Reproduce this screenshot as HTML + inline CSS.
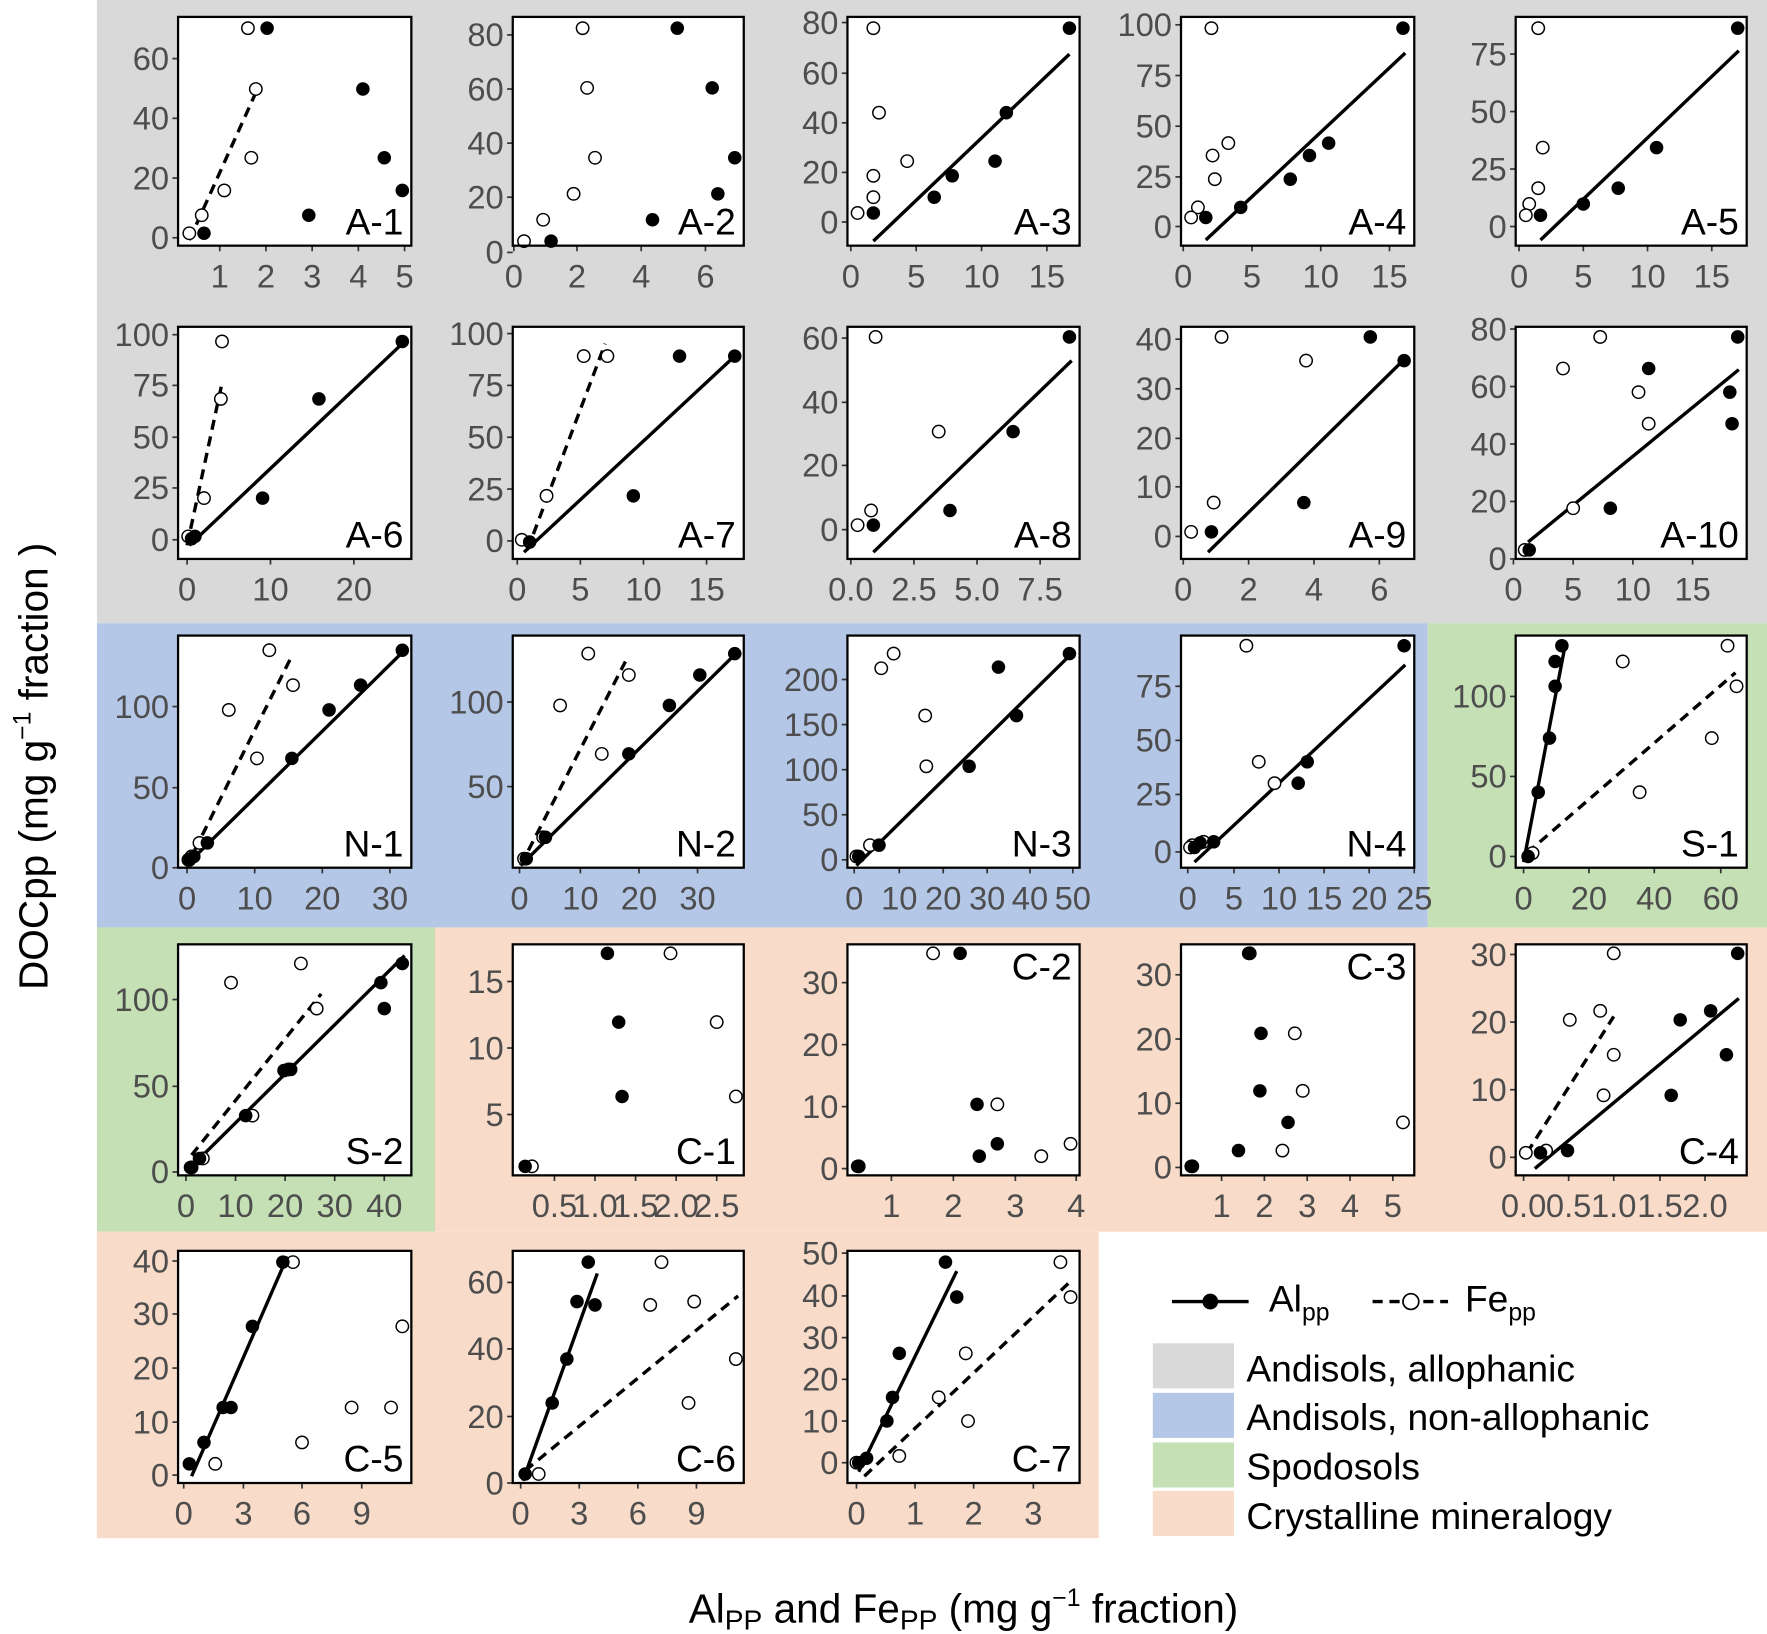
<!DOCTYPE html>
<html><head><meta charset="utf-8"><style>
html,body{margin:0;padding:0;background:#fff}
svg{display:block}
text{font-family:"Liberation Sans",Arial,sans-serif}
</style></head><body>
<svg id="s" width="1767" height="1634" viewBox="0 0 1568 1450" xmlns="http://www.w3.org/2000/svg">
<rect x="86" y="0" width="1482" height="553" fill="#d9d9d9"/>
<rect x="86" y="553" width="1181" height="270" fill="#b4c7e7"/>
<rect x="1267" y="553" width="301" height="270" fill="#c5e0b4"/>
<rect x="86" y="823" width="300" height="270" fill="#c5e0b4"/>
<rect x="386" y="823" width="1182" height="270" fill="#f8dcc9"/>
<rect x="86" y="1093" width="889" height="272" fill="#f8dcc9"/>
<g id="g"></g>
<line x1="1040" y1="1155" x2="1108" y2="1155" stroke="#000" stroke-width="3"/>
<circle cx="1074" cy="1155" r="7" fill="#000"/>
<text x="1126" y="1164" font-size="33">Al<tspan font-size="22" dy="8">pp</tspan></text>
<line x1="1218" y1="1155" x2="1285" y2="1155" stroke="#000" stroke-width="3" stroke-dasharray="9,6"/>
<circle cx="1252" cy="1155" r="7" fill="#fff" stroke="#000" stroke-width="1.5"/>
<text x="1300" y="1164" font-size="33">Fe<tspan font-size="22" dy="8">pp</tspan></text>
<rect x="1023" y="1192" width="72" height="40" fill="#d9d9d9"/>
<rect x="1023" y="1236" width="72" height="40" fill="#b4c7e7"/>
<rect x="1023" y="1280" width="72" height="40" fill="#c5e0b4"/>
<rect x="1023" y="1323" width="72" height="40" fill="#f8dcc9"/>
<text x="1106" y="1226" font-size="33">Andisols, allophanic</text>
<text x="1106" y="1269" font-size="33">Andisols, non-allophanic</text>
<text x="1106" y="1313" font-size="33">Spodosols</text>
<text x="1106" y="1357" font-size="33">Crystalline mineralogy</text>
<text transform="translate(42,680) rotate(-90)" text-anchor="middle" font-size="36">DOCpp (mg g<tspan font-size="22" dy="-15">−1</tspan><tspan dy="15"> fraction )</tspan></text>
<text x="855" y="1440" text-anchor="middle" font-size="36">Al<tspan font-size="25" dy="6">PP</tspan><tspan dy="-6"> and Fe</tspan><tspan font-size="25" dy="6">PP</tspan><tspan dy="-6"> (mg g</tspan><tspan font-size="22" dy="-15">−1</tspan><tspan dy="15"> fraction)</tspan></text>
</svg>
<script>
var C=[[158,365],[455,660],[752,958],[1048,1255],[1345,1550]];
var R=[[15,218],[290,496],[564,770],[838,1043],[1110,1316]];
function P(c,r,lab,yt,xt,fi,op,ln,top){return {c:c,r:r,lab:lab,yt:yt,xt:xt,fi:fi,op:op,ln:ln,top:top};}
var D=[
P(0,0,"A-1",[[60,52],[40,105],[20,158],[0,211]],[[1,195],[2,236],[3,277],[4,318],[5,359]],
[[237,25],[181,207],[274,191],[322,79],[341,140],[357,169]],[[220,25],[227,79],[223,140],[199,169],[179,191],[168,207]],[[168,213,228,80,1]]),
P(1,0,"A-2",[[80,31],[60,79],[40,127],[20,175],[0,224]],[[0,456],[2,512],[4,569],[6,626]],
[[601,25],[632,78],[652,140],[637,172],[579,195],[489,214]],[[517,25],[521,78],[528,140],[509,172],[482,195],[465,214]],[]),
P(2,0,"A-3",[[80,20],[60,65],[40,109],[20,153],[0,197]],[[0,755],[5,813],[10,871],[15,929]],
[[949,25],[893,100],[883,143],[845,156],[829,175],[775,189]],[[775,25],[780,100],[805,143],[775,156],[775,175],[761,189]],[[775,214,949,48,0]]),
P(3,0,"A-4",[[100,22],[75,67],[50,112],[25,157],[0,201]],[[0,1050],[5,1111],[10,1172],[15,1233]],
[[1245,25],[1179,127],[1162,138],[1145,159],[1101,184],[1070,193]],[[1075,25],[1090,127],[1076,138],[1078,159],[1063,184],[1057,193]],[[1070,213,1247,47,0]]),
P(4,0,"A-5",[[75,48],[50,99],[25,150],[0,201]],[[0,1348],[5,1405],[10,1462],[15,1519]],
[[1542,25],[1470,131],[1436,167],[1405,181],[1367,191]],[[1365,25],[1369,131],[1365,167],[1357,181],[1354,191]],[[1367,213,1543,45,0]]),
P(0,1,"A-6",[[100,297],[75,342],[50,388],[25,433],[0,479]],[[0,166],[10,240],[20,314]],
[[357,303],[283,354],[233,442],[173,476],[170,478]],[[197,303],[196,354],[181,442],[167,476]],[[168,484,359,303,0],[166,484,197,340,1]]),
P(1,1,"A-7",[[100,296],[75,342],[50,388],[25,434],[0,480]],[[0,459],[5,515],[10,571],[15,627]],
[[652,316],[603,316],[562,440],[470,481]],[[518,316],[539,316],[485,440],[463,479]],[[465,490,652,316,0],[468,488,537,305,1]]),
P(2,1,"A-8",[[60,300],[40,357],[20,413],[0,470]],[["0.0",755],["2.5",811],["5.0",867],["7.5",923]],
[[949,299],[899,383],[843,453],[775,466]],[[777,299],[833,383],[773,453],[761,466]],[[775,490,951,320,0]]),
P(3,1,"A-9",[[40,301],[30,345],[20,389],[10,432],[0,476]],[[0,1050],[2,1108],[4,1166],[6,1224]],
[[1216,299],[1246,320],[1157,446],[1075,472]],[[1084,299],[1159,320],[1077,446],[1057,472]],[[1072,490,1245,320,0]]),
P(4,1,"A-10",[[80,292],[60,343],[40,394],[20,445],[0,496]],[[0,1343],[5,1396],[10,1449],[15,1502]],
[[1542,299],[1463,327],[1535,348],[1537,376],[1429,451],[1357,488]],[[1420,299],[1387,327],[1454,348],[1463,376],[1396,451],[1353,488]],[[1356,481,1543,328,0]]),
P(0,2,"N-1",[[100,627],[50,699],[0,770]],[[0,166],[10,226],[20,286],[30,346]],
[[357,577],[320,608],[292,630],[259,673],[184,748],[172,760],[167,763]],[[239,577],[260,608],[203,630],[228,673],[177,748],[170,760],[168,763]],[[165,768,359,577,0],[166,768,259,582,1]]),
P(1,2,"N-2",[[100,623],[50,698]],[[0,461],[10,515],[20,567],[30,619]],
[[652,580],[621,599],[594,626],[558,669],[484,743],[467,762]],[[522,580],[558,599],[497,626],[534,669],[482,743],[465,762]],[[462,768,653,580,0],[462,768,555,587,1]]),
P(2,2,"N-3",[[200,603],[150,643],[100,683],[50,723],[0,763]],[[0,758],[10,798],[20,837],[30,876],[40,914],[50,952]],
[[949,580],[886,592],[902,635],[860,680],[780,750],[762,760]],[[793,580],[782,593],[821,635],[822,680],[772,750],[760,760]],[[760,768,951,580,0]]),
P(3,2,"N-4",[[75,609],[50,657],[25,705],[0,756]],[[0,1054],[5,1095],[10,1135],[15,1175],[20,1215],[25,1255]],
[[1246,573],[1160,676],[1152,695],[1077,747],[1065,748],[1060,752]],[[1106,573],[1117,676],[1131,695],[1068,747],[1058,750],[1056,752]],[[1060,765,1247,590,0]]),
P(4,2,"S-1",[[100,618],[50,689],[0,760]],[[0,1352],[20,1410],[40,1468],[60,1527]],
[[1386,573],[1380,587],[1380,609],[1375,655],[1365,703],[1356,760]],[[1533,573],[1541,609],[1440,587],[1519,655],[1455,703],[1360,757]],[[1352,765,1389,572,0],[1355,757,1540,597,1]]),
P(0,3,"S-2",[[100,887],[50,964],[0,1040]],[[0,165],[10,209],[20,253],[30,297],[40,341]],
[[357,855],[338,872],[341,895],[258,949],[252,950],[218,990],[177,1028],[169,1036]],[[267,855],[205,872],[281,895],[256,949],[224,990],[180,1028],[170,1036]],[[165,1040,359,848,0],[170,1025,285,882,1]]),
P(1,3,"C-1",[[15,871],[10,930],[5,989]],[["0.5",492],["1.0",528],["1.5",564],["2.0",600],["2.5",636]],
[[539,846],[549,907],[552,973],[466,1035]],[[595,846],[636,907],[653,973],[472,1035]],[]),
P(2,3,"C-2",[[30,872],[20,927],[10,982],[0,1037]],[[1,791],[2,846],[3,901],[4,955]],
[[852,846],[867,980],[869,1026],[885,1015],[761,1035]],[[828,846],[885,980],[924,1026],[950,1015],[762,1035]],[],1),
P(3,3,"C-3",[[30,865],[20,922],[10,979],[0,1036]],[[1,1084],[2,1122],[3,1160],[4,1198],[5,1236]],
[[1108,846],[1119,917],[1118,968],[1143,996],[1099,1021],[1057,1035]],[[1109,846],[1149,917],[1156,968],[1138,1021],[1245,996],[1058,1035]],[],1),
P(4,3,"C-4",[[30,847],[20,907],[10,967],[0,1027]],[["0.0",1352],["0.5",1392],["1.0",1432],["1.5",1473],["2.0",1513]],
[[1542,846],[1491,905],[1518,897],[1532,936],[1483,972],[1391,1021],[1367,1023]],[[1432,846],[1393,905],[1420,897],[1432,936],[1423,972],[1372,1021],[1354,1023]],[[1362,1037,1543,886,0],[1355,1023,1432,902,1]]),
P(0,4,"C-5",[[40,1119],[30,1166],[20,1214],[10,1262],[0,1309]],[[0,163],[3,216],[6,268],[9,321]],
[[251,1120],[224,1177],[205,1249],[198,1249],[181,1280],[168,1299]],[[260,1120],[357,1177],[312,1249],[347,1249],[268,1280],[191,1299]],[[170,1310,255,1115,0]]),
P(1,4,"C-6",[[60,1138],[40,1197],[20,1257],[0,1316]],[[0,462],[3,514],[6,566],[9,618]],
[[522,1120],[512,1155],[528,1158],[503,1206],[490,1245],[466,1308]],[[587,1120],[577,1158],[616,1155],[653,1206],[611,1245],[478,1308]],[[464,1314,530,1130,0],[466,1305,655,1150,1]]),
P(2,4,"C-7",[[50,1112],[40,1150],[30,1187],[20,1224],[10,1261],[0,1298]],[[0,760],[1,812],[2,864],[3,917]],
[[839,1120],[849,1151],[798,1201],[792,1240],[787,1261],[769,1294],[762,1298]],[[941,1120],[950,1151],[857,1201],[833,1240],[859,1261],[798,1292],[760,1298]],[[762,1306,849,1128,0],[767,1310,950,1137,1]])
];
var h="";
D.forEach(function(p){
 var x0=C[p.c][0],x1=C[p.c][1],y0=R[p.r][0],y1=R[p.r][1];
 h+='<rect x="'+x0+'" y="'+y0+'" width="'+(x1-x0)+'" height="'+(y1-y0)+'" fill="#fff"/>';
 p.yt.forEach(function(t){h+='<line x1="'+(x0-5)+'" x2="'+x0+'" y1="'+t[1]+'" y2="'+t[1]+'" stroke="#333" stroke-width="1.5"/><text x="'+(x0-8)+'" y="'+(t[1]+10)+'" text-anchor="end" font-size="29" fill="#4d4d4d">'+t[0]+'</text>';});
 p.xt.forEach(function(t){h+='<line x1="'+t[1]+'" x2="'+t[1]+'" y1="'+y1+'" y2="'+(y1+5)+'" stroke="#333" stroke-width="1.5"/><text x="'+t[1]+'" y="'+(y1+37)+'" text-anchor="middle" font-size="29" fill="#4d4d4d">'+t[0]+'</text>';});
 p.ln.forEach(function(l){h+='<line x1="'+l[0]+'" y1="'+l[1]+'" x2="'+l[2]+'" y2="'+l[3]+'" stroke="#000" stroke-width="3"'+(l[4]?' stroke-dasharray="9,6"':'')+'/>';});
 p.op.forEach(function(q){h+='<circle cx="'+q[0]+'" cy="'+q[1]+'" r="5.5" fill="#fff" stroke="#000" stroke-width="1.3"/>';});
 p.fi.forEach(function(q){h+='<circle cx="'+q[0]+'" cy="'+q[1]+'" r="6" fill="#000"/>';});
 h+='<rect x="'+x0+'" y="'+y0+'" width="'+(x1-x0)+'" height="'+(y1-y0)+'" fill="none" stroke="#000" stroke-width="2"/>';
 var ly=p.top?y0+31:y1-10;
 h+='<text x="'+(x1-7)+'" y="'+ly+'" text-anchor="end" font-size="33">'+p.lab+'</text>';
});
document.getElementById("g").innerHTML=h;
</script>
</body></html>
